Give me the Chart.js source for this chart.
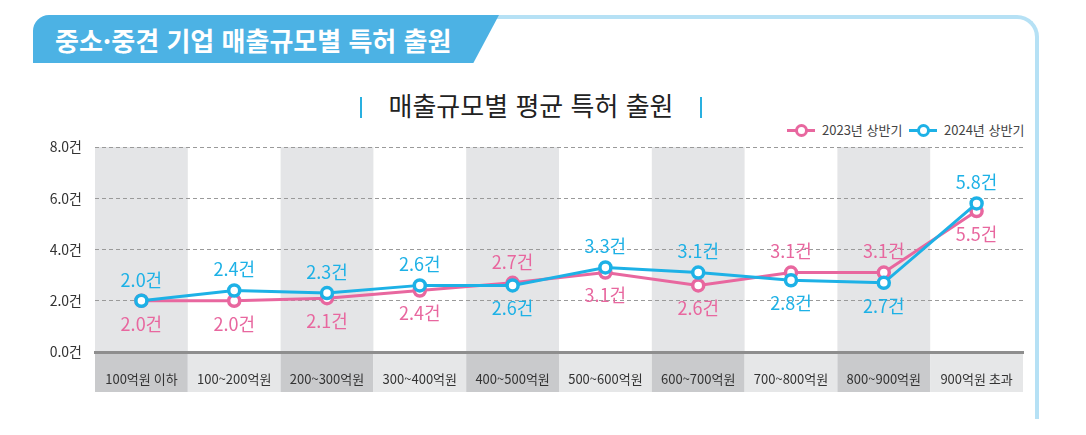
<!DOCTYPE html>
<html lang="ko">
<head>
<meta charset="utf-8">
<title>매출규모별 평균 특허 출원</title>
<script src="https://cdn.jsdelivr.net/npm/chart.js@4/dist/chart.umd.min.js"></script>
<style>
  html, body { margin: 0; padding: 0; background: #fff; }
  body { width: 1086px; height: 435px; position: relative; overflow: hidden;
         font-family: "Liberation Sans Narrow", "Noto Sans CJK KR", sans-serif; }
  #grafica { position: absolute; left: 0; top: 0; }
  .banner { position: absolute; left: 33px; top: 15px; width: 466px; height: 48px;
            background: #4cb2e4; border-top-left-radius: 16px;
            clip-path: polygon(0 0, 100% 0, 94.5% 100%, 0 100%); }
  .banner span { position: absolute; left: 22px; top: 6px; color: #fff; font-size: 26px;
                 font-weight: bold; font-family: "Noto Sans CJK KR", sans-serif; letter-spacing: 0px; }
  .marco { position: absolute; left: 495px; top: 15px; width: 540px; height: 400px;
           border-top: 4px solid #b6e1f5; border-right: 4px solid #b6e1f5;
           border-top-right-radius: 22px; }
  .subtitulo { position: absolute; left: 0; width: 1062px; top: 86px; text-align: center;
               font-size: 26px; font-weight: 400; color: #222; font-family: "Noto Sans CJK KR", sans-serif; }
  .subtitulo i { display: inline-block; width: 2px; height: 21px; background: #29b0e0;
                 vertical-align: -2px; margin: 0 27px; }
  .leyenda { position: absolute; top: 120px; font-size: 13px; color: #444; white-space: nowrap; }
  .leyenda .linea { display: inline-block; position: relative; width: 28px; height: 3px;
                    vertical-align: middle; margin-right: 7px; top: -1px; }
  .leyenda .linea b { position: absolute; left: 8px; top: -5px; width: 7px; height: 7px;
                      border-radius: 50%; background: #fff; border: 3px solid; border-color: inherit; }
</style>
</head>
<body>
<div class="marco"></div>
<div class="banner"><span>중소·중견 기업 매출규모별 특허 출원</span></div>
<div class="subtitulo"><i></i>매출규모별 평균 특허 출원<i></i></div>
<div class="leyenda" style="left:787px"><span class="linea" style="background:#e8679f;border-color:#e8679f"><b></b></span>2023년 상반기</div>
<div class="leyenda" style="left:909px"><span class="linea" style="background:#1db1e6;border-color:#1db1e6"><b></b></span>2024년 상반기</div>
<canvas id="grafica" width="1086" height="435"></canvas>
<script>
var categorias = ["100억원 이하", "100~200억원", "200~300억원", "300~400억원", "400~500억원",
                  "500~600억원", "600~700억원", "700~800억원", "800~900억원", "900억원 초과"];
var valores2023 = [2.0, 2.0, 2.1, 2.4, 2.7, 3.1, 2.6, 3.1, 3.1, 5.5];
var valores2024 = [2.0, 2.4, 2.3, 2.6, 2.6, 3.3, 3.1, 2.8, 2.7, 5.8];
var etiquetasY = [0, 2, 4, 6, 8];

var rosa = "#e8679f";
var azul = "#1db1e6";
var fuente = '"Liberation Sans Narrow", "Noto Sans CJK KR", sans-serif';

// columnas grises de fondo y banda de etiquetas
var columnas = {
  id: "columnas",
  beforeDraw: function(chart) {
    var ctx = chart.ctx, x = chart.scales.x, area = chart.chartArea;
    var paso = x.getPixelForValue(1) - x.getPixelForValue(0);
    ctx.save();
    categorias.forEach(function(c, i) {
      var izq = x.getPixelForValue(i) - paso / 2;
      if (i % 2 == 0) {
        ctx.fillStyle = "#e4e5e7";
        ctx.fillRect(izq, area.top, paso, area.bottom - area.top);
      }
      ctx.fillStyle = i % 2 == 0 ? "#c9cacc" : "#e6e7e8";
      ctx.fillRect(izq, area.bottom, paso, 40);
    });
    ctx.restore();
  }
};

// etiquetas de valores: la serie mayor arriba, la menor abajo
var etiquetas = {
  id: "etiquetas",
  afterDatasetsDraw: function(chart) {
    var ctx = chart.ctx;
    ctx.save();
    ctx.font = "18px " + fuente;
    ctx.textAlign = "center";
    ctx.textBaseline = "middle";
    chart.data.datasets.forEach(function(ds, d) {
      var otra = chart.data.datasets[1 - d].data;
      var meta = chart.getDatasetMeta(d);
      ds.data.forEach(function(v, i) {
        var arriba = ds.esAzul ? v >= otra[i] : v > otra[i];
        var p = meta.data[i];
        ctx.fillStyle = ds.borderColor;
        ctx.fillText(v.toFixed(1) + "건", p.x, arriba ? p.y - 21 : p.y + 23);
      });
    });
    ctx.restore();
  }
};

new Chart(document.getElementById("grafica"), {
  type: "line",
  data: {
    labels: categorias,
    datasets: [
      {
        label: "2023년 상반기",
        data: valores2023,
        borderColor: rosa,
        backgroundColor: "#fff",
        borderWidth: 3,
        pointRadius: 5.5,
        pointBorderWidth: 3.5,
        pointBackgroundColor: "#fff",
        order: 1
      },
      {
        label: "2024년 상반기",
        data: valores2024,
        esAzul: true,
        borderColor: azul,
        backgroundColor: "#fff",
        borderWidth: 3,
        pointRadius: 5.5,
        pointBorderWidth: 3.5,
        pointBackgroundColor: "#fff",
        order: 0
      }
    ]
  },
  options: {
    responsive: false,
    animation: false,
    layout: { padding: { left: 35, right: 63, top: 147, bottom: 43 } },
    plugins: {
      legend: { display: false },
      title: { display: false },
      tooltip: { enabled: false }
    },
    scales: {
      x: {
        offset: true,
        grid: { display: false },
        border: { color: "#8e8e8e", width: 3 },
        ticks: { color: "#333", font: { size: 13, family: fuente }, padding: 11, maxRotation: 0 },
        afterFit: function(s) { s.height = 40; }
      },
      y: {
        min: 0,
        max: 8,
        afterBuildTicks: function(s) { s.ticks = etiquetasY.map(function(v) { return { value: v }; }); },
        grid: {
          drawTicks: false,
          color: function(c) { return c.tick && c.tick.value === 0 ? "transparent" : "#9a9a9a"; },
          lineWidth: 1
        },
        border: { display: false, dash: [4, 3] },
        ticks: {
          color: "#333",
          padding: 13,
          font: { size: 14, family: fuente },
          callback: function(v) { return v.toFixed(1) + "건"; }
        },
        afterFit: function(s) { s.width = 60; }
      }
    }
  },
  plugins: [columnas, etiquetas]
});
</script>
</body>
</html>
